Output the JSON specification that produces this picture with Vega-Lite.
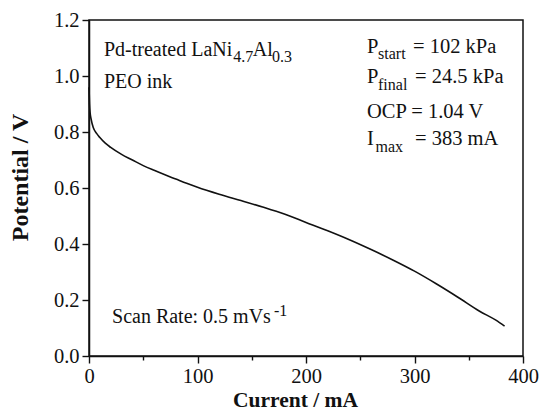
{
  "$schema": "https://vega.github.io/schema/vega-lite/v6.json",
  "autosize": "none",
  "padding": {"left": 89, "top": 20, "right": 18, "bottom": 62},
  "width": 434,
  "height": 336,
  "background": "white",
  "config": {
    "view": {"stroke": "#111", "strokeWidth": 1.5},
    "font": "Liberation Serif",
    "axis": {
      "domainColor": "#111",
      "domainWidth": 1.5,
      "tickColor": "#111",
      "tickWidth": 1.4,
      "grid": false,
      "labelFont": "Liberation Serif",
      "labelFontSize": 20.5,
      "labelColor": "#111",
      "labelOverlap": false,
      "labelFlush": false,
      "titleFont": "Liberation Serif",
      "titleFontSize": 22,
      "titleFontWeight": "bold",
      "titleColor": "#111"
    }
  },
  "datasets": {
    "curve": [
      {"current": 0, "potential": 0.96},
      {"current": 0.5, "potential": 0.9},
      {"current": 1, "potential": 0.87},
      {"current": 2, "potential": 0.845},
      {"current": 4, "potential": 0.815},
      {"current": 7, "potential": 0.795},
      {"current": 10, "potential": 0.78},
      {"current": 15, "potential": 0.76},
      {"current": 20, "potential": 0.745},
      {"current": 30, "potential": 0.72},
      {"current": 40, "potential": 0.7},
      {"current": 50, "potential": 0.68},
      {"current": 60, "potential": 0.663},
      {"current": 70, "potential": 0.647},
      {"current": 80, "potential": 0.632},
      {"current": 90, "potential": 0.617},
      {"current": 100, "potential": 0.603},
      {"current": 120, "potential": 0.578},
      {"current": 140, "potential": 0.555},
      {"current": 160, "potential": 0.532},
      {"current": 180, "potential": 0.507},
      {"current": 200, "potential": 0.477},
      {"current": 220, "potential": 0.447},
      {"current": 240, "potential": 0.415},
      {"current": 260, "potential": 0.38},
      {"current": 280, "potential": 0.343},
      {"current": 300, "potential": 0.303},
      {"current": 320, "potential": 0.258},
      {"current": 340, "potential": 0.21},
      {"current": 360, "potential": 0.16},
      {"current": 375, "potential": 0.128},
      {"current": 383, "potential": 0.107}
    ],
    "notesLeft": [
      {"x": 13.8, "y": 1.071, "t": "Pd-treated LaNi"},
      {"x": 151.0, "y": 1.071, "t": "Al"},
      {"x": 13.8, "y": 0.957, "t": "PEO ink"},
      {"x": 21.2, "y": 0.118, "t": "Scan Rate: 0.5 mVs"}
    ],
    "notesRight": [
      {"x": 256.2, "y": 1.082, "t": "P"},
      {"x": 298.6, "y": 1.082, "t": "= 102 kPa"},
      {"x": 256.2, "y": 0.975, "t": "P"},
      {"x": 300.5, "y": 0.975, "t": "= 24.5 kPa"},
      {"x": 256.2, "y": 0.85, "t": "OCP = 1.04 V"},
      {"x": 256.2, "y": 0.754, "t": "I"},
      {"x": 300.5, "y": 0.754, "t": "= 383 mA"}
    ],
    "small": [
      {"x": 133.0, "y": 1.05, "t": "4.7"},
      {"x": 168.7, "y": 1.05, "t": "0.3"},
      {"x": 266.4, "y": 1.061, "t": "start"},
      {"x": 266.4, "y": 0.95, "t": "final"},
      {"x": 264.0, "y": 0.729, "t": "max"},
      {"x": 170.5, "y": 0.143, "t": "-1"}
    ]
  },
  "layer": [
    {
      "data": {"name": "curve"},
      "mark": {"type": "line", "color": "#111", "strokeWidth": 1.6, "interpolate": "monotone"},
      "encoding": {
        "x": {
          "field": "current", "type": "quantitative",
          "scale": {"domain": [0, 400], "nice": false, "zero": false},
          "axis": {
            "title": "Current / mA",
            "values": [0, 50, 100, 150, 200, 250, 300, 350, 400],
            "format": "d",
            "labelExpr": "datum.value % 100 === 0 ? datum.label : ''",
            "tickSize": {"condition": {"test": "datum.value % 100 === 0", "value": 7}, "value": 4},
            "labelPadding": 3,
            "titleFontSize": 21.5,
            "titleX": 206,
            "titleY": 50,
            "titleBaseline": "alphabetic"
          }
        },
        "y": {
          "field": "potential", "type": "quantitative",
          "scale": {"domain": [0, 1.2], "nice": false, "zero": false},
          "axis": {
            "title": "Potential / V",
            "values": [0, 0.1, 0.2, 0.3, 0.4, 0.5, 0.6, 0.7, 0.8, 0.9, 1.0, 1.1, 1.2],
            "format": ".1f",
            "labelExpr": "round(datum.value * 10) % 2 === 0 ? datum.label : ''",
            "tickSize": {"condition": {"test": "round(datum.value * 10) % 2 === 0", "value": 7}, "value": 4},
            "labelPadding": 3,
            "titleFontSize": 24,
            "titleX": -62,
            "titleY": 157,
            "titleAlign": "center",
            "titleBaseline": "alphabetic"
          }
        }
      }
    },
    {
      "data": {"name": "notesLeft"},
      "mark": {"type": "text", "align": "left", "baseline": "alphabetic", "fontSize": 20, "font": "Liberation Serif", "color": "#111"},
      "encoding": {
        "x": {"field": "x", "type": "quantitative"},
        "y": {"field": "y", "type": "quantitative"},
        "text": {"field": "t"}
      }
    },
    {
      "data": {"name": "notesRight"},
      "mark": {"type": "text", "align": "left", "baseline": "alphabetic", "fontSize": 20.5, "font": "Liberation Serif", "color": "#111"},
      "encoding": {
        "x": {"field": "x", "type": "quantitative"},
        "y": {"field": "y", "type": "quantitative"},
        "text": {"field": "t"}
      }
    },
    {
      "data": {"name": "small"},
      "mark": {"type": "text", "align": "left", "baseline": "alphabetic", "fontSize": 16, "font": "Liberation Serif", "color": "#111"},
      "encoding": {
        "x": {"field": "x", "type": "quantitative"},
        "y": {"field": "y", "type": "quantitative"},
        "text": {"field": "t"}
      }
    }
  ]
}
